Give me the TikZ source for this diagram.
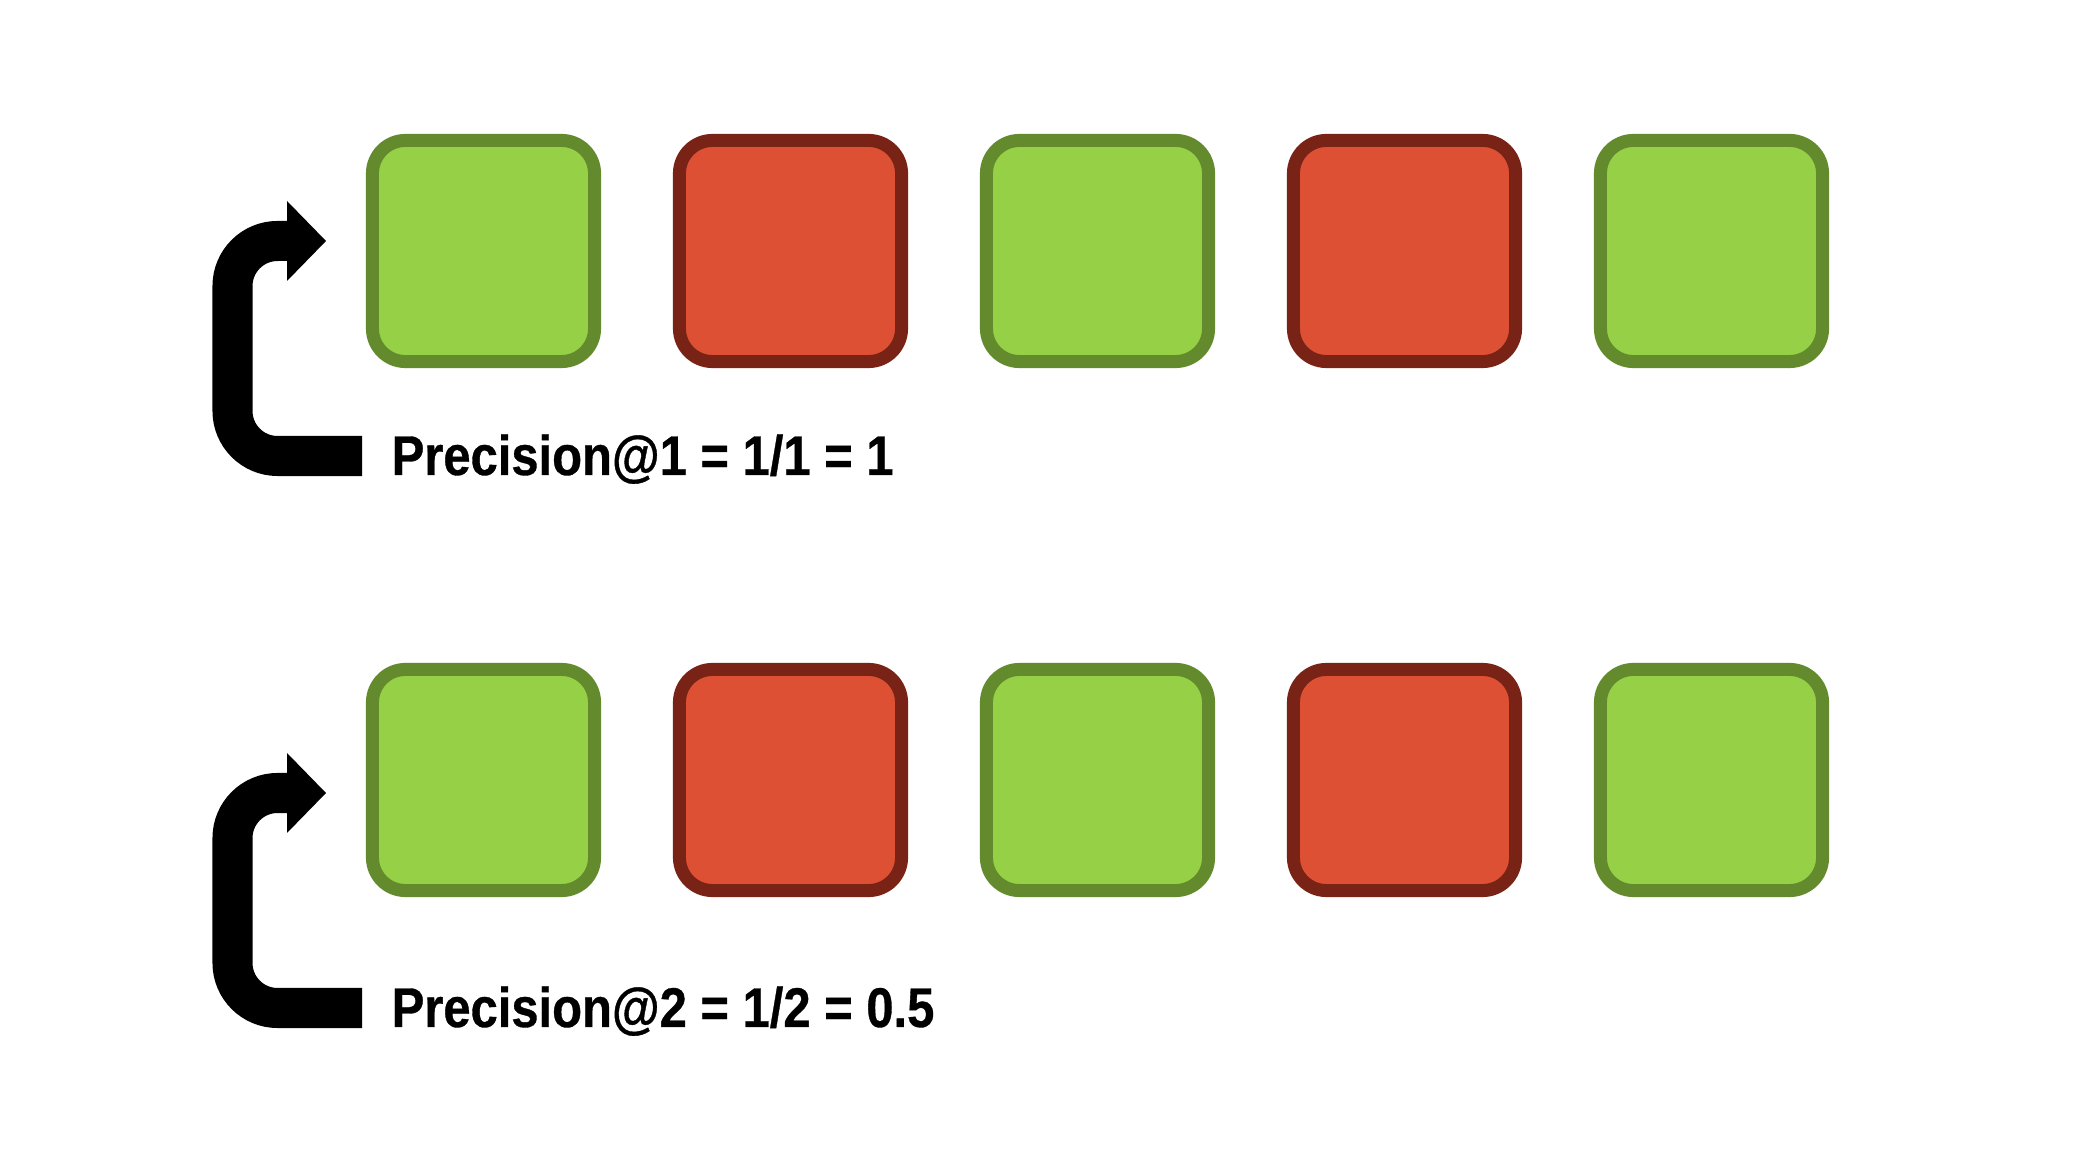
\documentclass[tikz,border=0pt]{standalone}
\usepackage{fontspec}
\setmainfont{Liberation Sans}
\newfontfamily\lblfont[FakeStretch=0.875, FakeBold=0.6]{Liberation Sans}
\usetikzlibrary{calc}
\definecolor{gfill}{HTML}{95D046}
\definecolor{gline}{HTML}{638B2D}
\definecolor{rfill}{HTML}{DD5034}
\definecolor{rline}{HTML}{782316}
\tikzset{
  cell/.style={rectangle, rounded corners=0.33cm, line width=0.13cm,
    minimum width=2.22cm, minimum height=2.21cm, inner sep=0pt},
  gcell/.style={cell, fill=gfill, draw=gline},
  rcell/.style={cell, fill=rfill, draw=rline},
  label/.style={anchor=base west, inner sep=0pt,
    font=\lblfont\fontsize{15.9}{19}\selectfont\bfseries},
  shaft/.style={line width=0.4cm, rounded corners=0.45cm, black},
  head/.style={fill=black}
}
\begin{document}
\begin{tikzpicture}[x=0.01cm, y=-0.01cm]
\useasboundingbox (0,0) rectangle (2094,1174);
\fill[white] (0,0) rectangle (2094,1174);
% row 1
\node[gcell] (a1) at (483.5,251) {};
\node[rcell] (a2) at (790.5,251) {};
\node[gcell] (a3) at (1097.5,251) {};
\node[rcell] (a4) at (1404.5,251) {};
\node[gcell] (a5) at (1711.5,251) {};
\node[label] (p1) at (391,475) {Precision@1 = 1/1 = 1};
\coordinate (s1) at (362,456);
\coordinate (c1) at (232.5,241);
\coordinate (h1) at (287,241);
\coordinate (t1) at (326,241);
\draw[shaft] (s1) -| (c1) -- (h1);
\fill[head] (t1) -- ($(h1)+(0,-40)$) -- ($(h1)+(0,40)$) -- cycle;
% row 2
\node[gcell] (b1) at (483.5,780) {};
\node[rcell] (b2) at (790.5,780) {};
\node[gcell] (b3) at (1097.5,780) {};
\node[rcell] (b4) at (1404.5,780) {};
\node[gcell] (b5) at (1711.5,780) {};
\node[label] (p2) at (391,1027) {Precision@2 = 1/2 = 0.5};
\coordinate (s2) at (362,1008);
\coordinate (c2) at (232.5,793);
\coordinate (h2) at (287,793);
\coordinate (t2) at (326,793);
\draw[shaft] (s2) -| (c2) -- (h2);
\fill[head] (t2) -- ($(h2)+(0,-40)$) -- ($(h2)+(0,40)$) -- cycle;
\end{tikzpicture}
\end{document}
